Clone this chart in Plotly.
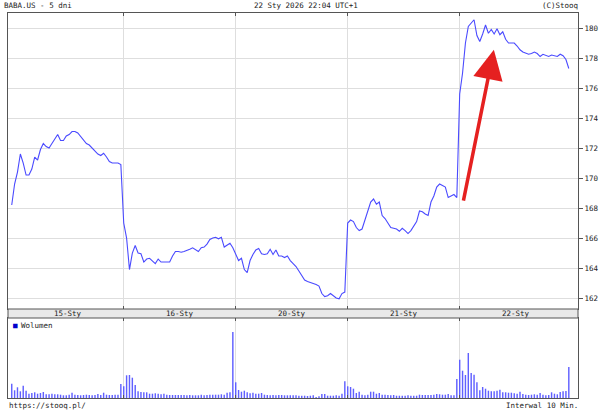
import plotly.graph_objects as go

# ---------------- data ----------------
days = ["15-Sty", "16-Sty", "20-Sty", "21-Sty", "22-Sty"]
bars_per_day = 39

price_15 = [168.2, 169.6, 170.4, 171.6, 171.0, 170.2, 170.2, 170.6, 171.4, 171.2,
            171.9, 172.3, 172.1, 172.0, 172.3, 172.6, 172.9, 172.5, 172.5, 172.8,
            172.9, 173.1, 173.1, 173.0, 172.75, 172.5, 172.3, 172.2, 172.0, 171.8,
            171.6, 171.5, 171.65, 171.4, 171.1, 171.0, 171.0, 171.0, 170.9]
price_16 = [167.0, 166.0, 163.9, 165.0, 165.5, 165.0, 164.95, 164.4, 164.6, 164.65,
            164.5, 164.3, 164.6, 164.4, 164.4, 164.4, 164.4, 164.8, 165.1, 165.1,
            165.05, 165.1, 165.15, 165.25, 165.35, 165.2, 165.1, 165.35, 165.4, 165.6,
            165.9, 166.0, 166.05, 165.95, 166.05, 165.4, 165.5, 165.65, 165.35]
price_20 = [164.9, 164.5, 164.65, 163.9, 163.7, 164.5, 164.9, 165.2, 165.3, 164.95,
            164.9, 164.95, 165.25, 164.9, 165.2, 164.8, 164.8, 164.7, 164.8, 164.5,
            164.3, 164.1, 163.8, 163.5, 163.2, 163.1, 163.05, 163.0, 162.9, 162.8,
            162.3, 162.1, 162.15, 162.3, 162.15, 162.0, 161.95, 162.3, 162.4]
price_21 = [167.0, 167.2, 167.1, 166.7, 166.5, 166.6, 167.2, 167.9, 168.4, 168.6,
            168.25, 168.4, 167.5, 167.3, 167.0, 166.7, 166.65, 166.6, 166.45, 166.65,
            166.5, 166.3, 166.5, 166.85, 167.1, 167.8, 167.75, 167.6, 167.5, 168.4,
            168.8, 169.4, 169.6, 169.5, 169.4, 168.7, 168.8, 168.9, 168.7]
price_22 = [175.6, 177.0, 179.0, 180.1, 180.3, 180.55, 179.5, 179.1, 179.6, 180.2,
            179.65, 179.9, 179.6, 179.95, 179.55, 179.75, 179.25, 179.0, 179.0, 179.0,
            178.8, 178.55, 178.4, 178.35, 178.25, 178.3, 178.4, 178.3, 178.1, 178.25,
            178.2, 178.1, 178.2, 178.15, 178.1, 178.25, 178.15, 177.9, 177.3]

vol_15 = [14.3, 7.7, 10.7, 6.7, 12.3, 7.3, 4.3, 5.0, 5.7, 4.3,
          5.0, 6.0, 3.7, 3.7, 4.3, 3.7, 3.7, 3.3, 2.7, 2.7,
          3.3, 5.3, 3.3, 3.0, 2.7, 3.0, 3.3, 3.0, 2.7, 3.0,
          4.0, 3.0, 5.3, 3.3, 3.0, 3.0, 3.3, 3.3, 14.0]
vol_16 = [11.7, 22.7, 23.0, 20.3, 13.0, 6.7, 6.0, 5.7, 5.7, 4.3,
          4.3, 4.7, 4.3, 3.7, 4.3, 3.3, 3.0, 3.0, 3.0, 3.0,
          3.0, 3.0, 2.7, 3.0, 2.7, 2.7, 2.7, 3.3, 2.7, 3.0,
          3.3, 3.3, 3.3, 3.3, 3.7, 3.3, 5.3, 5.7, 66.0]
vol_20 = [15.7, 8.0, 6.3, 7.3, 5.7, 4.7, 5.3, 4.3, 4.3, 5.0,
          3.3, 3.0, 2.7, 3.0, 2.7, 3.0, 3.0, 2.7, 2.7, 2.7,
          2.7, 2.7, 2.3, 2.3, 2.3, 2.0, 2.3, 2.7, 1.0, 1.7,
          4.0, 4.0, 2.3, 2.3, 2.3, 2.7, 2.3, 4.3, 16.7]
vol_21 = [11.7, 11.0, 9.3, 5.0, 6.3, 3.3, 2.7, 3.3, 6.3, 6.3,
          4.3, 5.0, 3.3, 3.3, 3.0, 2.7, 3.0, 2.3, 2.3, 2.3,
          2.3, 2.7, 2.3, 2.3, 2.3, 3.3, 3.0, 3.0, 3.0, 3.0,
          3.3, 4.0, 3.7, 3.3, 3.3, 4.0, 2.7, 2.7, 19.0]
vol_22 = [38.3, 27.3, 23.0, 45.0, 25.0, 23.3, 15.7, 7.7, 11.0, 9.3,
          7.3, 6.7, 6.7, 7.3, 8.3, 5.7, 5.7, 5.3, 5.3, 4.7,
          4.3, 6.3, 4.0, 3.3, 3.0, 3.3, 3.7, 3.3, 5.0, 3.3,
          2.7, 3.0, 5.7, 4.3, 3.7, 6.0, 6.7, 7.0, 31.0]

price_ticks = [162, 164, 166, 168, 170, 172, 174, 176, 178, 180]

title_left = "BABA.US - 5 dni"
title_mid = "22 Sty 2026 22:04 UTC+1"
title_right = "(C)Stooq"
footer_left = "https://stooq.pl/"
footer_right = "Interwal 10 Min."
legend_label = "Wolumen"

# ---------------- build ----------------
price = price_15 + price_16 + price_20 + price_21 + price_22
vol = vol_15 + vol_16 + vol_20 + vol_21 + vol_22
idx = list(range(len(price)))
day_bounds = [bars_per_day * k for k in range(1, len(days))]
day_centers = [bars_per_day * k + bars_per_day / 2 for k in range(len(days))]

W, H = 605, 418
def px(x):
    return x / W
def py(y):
    return 1 - y / H

FONT = "DejaVu Sans Mono"
TXT = "#222222"
AX = "#555555"
GRID = "#dedede"
xr = [-1.3, 197.2]

fig = go.Figure()
fig.add_trace(go.Scatter(x=idx, y=price, mode="lines",
                         line=dict(color="#4a4aff", width=1.1),
                         xaxis="x", yaxis="y", showlegend=False, hoverinfo="skip"))
fig.add_trace(go.Bar(x=idx, y=vol, marker=dict(color="#6060ff", line=dict(width=0)),
                     xaxis="x2", yaxis="y2", showlegend=False, hoverinfo="skip"))

xcommon = dict(range=xr, tickmode="array", tickvals=day_bounds, showticklabels=False,
               showgrid=True, gridcolor=GRID, gridwidth=1, zeroline=False,
               ticks="inside", ticklen=3, tickcolor=AX, showline=True, linecolor=AX,
               linewidth=1, mirror="ticks", fixedrange=True)

fig.update_layout(
    width=W, height=H,
    margin=dict(l=0, r=0, t=0, b=0),
    paper_bgcolor="white", plot_bgcolor="white",
    font=dict(family=FONT, size=7.5, color=TXT),
    bargap=0.5,
    xaxis=dict(domain=[px(8), px(578)], anchor="y", **xcommon),
    xaxis2=dict(domain=[px(8), px(578)], anchor="y2", matches="x", **xcommon),
    yaxis=dict(domain=[py(309), py(13)], range=[161.27, 181.0], side="right",
               tickmode="array", tickvals=price_ticks, ticktext=[str(t) for t in price_ticks],
               ticks="outside", ticklen=4, tickcolor=AX,
               showgrid=True, gridcolor=GRID, gridwidth=1, zeroline=False,
               showline=True, linecolor=AX, linewidth=1, mirror=True,
               tickfont=dict(family=FONT, size=7.5, color=TXT), fixedrange=True),
    yaxis2=dict(domain=[py(398), py(318)], range=[0, 80], side="right",
                showticklabels=False, ticks="", showgrid=False, zeroline=False,
                showline=True, linecolor=AX, linewidth=1, mirror=True, fixedrange=True),
)

# date band between panels
fig.add_shape(type="rect", xref="paper", yref="paper",
              x0=px(8), x1=px(578), y0=py(318), y1=py(309),
              fillcolor="#e9e9e9", line=dict(color=AX, width=1), layer="above")
for c, d in zip(day_centers, days):
    fig.add_annotation(x=c, xref="x", y=py(313.7), yref="paper", text=d,
                       showarrow=False, xanchor="center", yanchor="middle",
                       font=dict(family=FONT, size=7.5, color=TXT))

# header / footer texts
fig.add_annotation(x=px(2), y=py(5), xref="paper", yref="paper", text=title_left,
                   showarrow=False, xanchor="left", yanchor="middle")
fig.add_annotation(x=px(306), y=py(5), xref="paper", yref="paper", text=title_mid,
                   showarrow=False, xanchor="center", yanchor="middle")
fig.add_annotation(x=px(580), y=py(5), xref="paper", yref="paper", text=title_right,
                   showarrow=False, xanchor="right", yanchor="middle")
fig.add_annotation(x=px(7), y=py(405), xref="paper", yref="paper", text=footer_left,
                   showarrow=False, xanchor="left", yanchor="middle")
fig.add_annotation(x=px(580), y=py(405), xref="paper", yref="paper", text=footer_right,
                   showarrow=False, xanchor="right", yanchor="middle")

# volume legend
fig.add_annotation(x=px(11.5), y=py(325.5), xref="paper", yref="paper",
                   text='<span style="color:#0000cc">■</span>',
                   showarrow=False, xanchor="left", yanchor="middle")
fig.add_annotation(x=px(18.5), y=py(325.5), xref="paper", yref="paper",
                   text=legend_label,
                   showarrow=False, xanchor="left", yanchor="middle")

# red arrow annotation
fig.add_annotation(x=167.9, y=178.55, xref="x", yref="y",
                   ax=157.2, ay=168.4, axref="x", ayref="y",
                   text="", showarrow=True, arrowhead=2, arrowsize=1.7,
                   arrowwidth=3.5, arrowcolor="#e52020", standoff=0)

fig.write_html("out.html",
               config={"displayModeBar": False, "staticPlot": True},
               post_script="document.body.style.margin='0';document.body.style.overflow='hidden';")
